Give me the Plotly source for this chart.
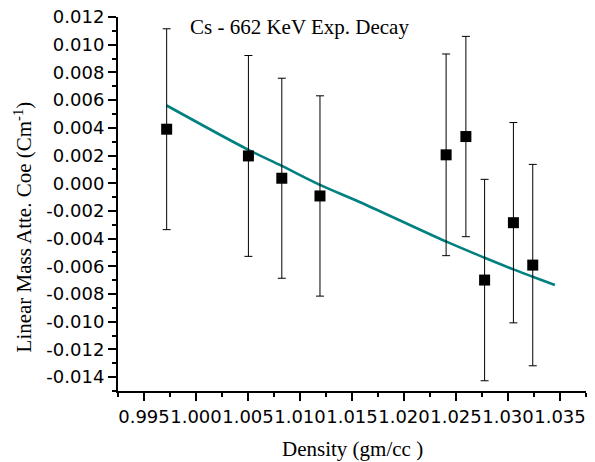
import plotly.graph_objects as go

density = [0.99718, 1.00504, 1.00825, 1.01192, 1.02405, 1.02595, 1.02775, 1.03052, 1.03238]
coef = [0.00390, 0.00197, 0.00036, -0.00092, 0.00205, 0.00337, -0.00699, -0.00285, -0.00591]
coef_err = [0.00725, 0.00725, 0.00722, 0.00723, 0.00728, 0.00723, 0.00727, 0.00723, 0.00727]

# Exponential decay fit curve
fit_x = [0.99718, 1.00504, 1.00825, 1.01192, 1.01578, 1.02408, 1.02775, 1.03052, 1.03238, 1.03451]
fit_y = [0.00561, 0.00241, 0.00125, -0.00012, -0.00137, -0.00422, -0.00538, -0.00622, -0.00675, -0.00735]

x_tickvals = [0.995, 1.000, 1.005, 1.010, 1.015, 1.020, 1.025, 1.030, 1.035]
x_ticktext = ["0.995", "1.000", "1.005", "1.010", "1.015", "1.020", "1.025", "1.030", "1.035"]
y_tickvals = [0.012, 0.010, 0.008, 0.006, 0.004, 0.002, 0.000, -0.002, -0.004,
              -0.006, -0.008, -0.010, -0.012, -0.014]
y_ticktext = ["0.012", "0.010", "0.008", "0.006", "0.004", "0.002", "0.000", "-0.002", "-0.004",
              "-0.006", "-0.008", "-0.010", "-0.012", "-0.014"]

title_text = "Cs - 662 KeV Exp. Decay"
x_title = "Density (gm/cc )"
y_title = "Linear Mass Atte. Coe (Cm<sup>-1</sup>)"

fig = go.Figure()
fig.add_trace(go.Scatter(
    x=fit_x, y=fit_y, mode="lines", line=dict(color="#008080", width=2.6, shape="spline"),
    hoverinfo="skip"))
fig.add_trace(go.Scatter(
    x=density, y=coef, mode="markers",
    marker=dict(symbol="square", size=11, color="black"),
    error_y=dict(type="data", array=coef_err, visible=True, color="black", thickness=1, width=4)))

tickfont = dict(family="DejaVu Sans", size=18, color="black")
serif = "Liberation Serif"

fig.update_layout(
    width=595, height=462,
    margin=dict(l=118, r=9, t=17, b=71),
    paper_bgcolor="white", plot_bgcolor="white",
    showlegend=False,
    xaxis=dict(range=[0.9925, 1.0375], tickvals=x_tickvals, ticktext=x_ticktext,
               ticks="outside", ticklen=8, tickwidth=1.5, tickcolor="black", tickangle=0,
               minor=dict(dtick=0.0025, tick0=0.9925, ticks="outside", ticklen=4, tickwidth=1.5, tickcolor="black"),
               showline=True, linecolor="black", linewidth=2, showgrid=False, zeroline=False,
               tickfont=tickfont, automargin=False),
    yaxis=dict(range=[-0.015, 0.012], tickvals=y_tickvals, ticktext=y_ticktext,
               ticks="outside", ticklen=8, tickwidth=1.5, tickcolor="black",
               minor=dict(dtick=0.001, tick0=0, ticks="outside", ticklen=4, tickwidth=1.5, tickcolor="black"),
               showline=True, linecolor="black", linewidth=2, showgrid=False, zeroline=False,
               tickfont=tickfont, automargin=False),
    annotations=[
        dict(text=title_text, xref="paper", yref="paper", x=0.150, y=0.972,
             xanchor="left", yanchor="middle", showarrow=False,
             font=dict(family=serif, size=21, color="black")),
        dict(text=x_title, xref="paper", yref="paper", x=0.5, y=-0.155,
             xanchor="center", yanchor="middle", showarrow=False,
             font=dict(family=serif, size=21, color="black")),
        dict(text=y_title, xref="paper", yref="paper", x=-0.2030, y=0.440,
             xanchor="center", yanchor="middle", textangle=-90, showarrow=False,
             font=dict(family=serif, size=21, color="black")),
    ],
)

fig.write_html("out.html", config={"displayModeBar": False},
               post_script="document.body.style.margin='0';document.body.style.padding='0';")
